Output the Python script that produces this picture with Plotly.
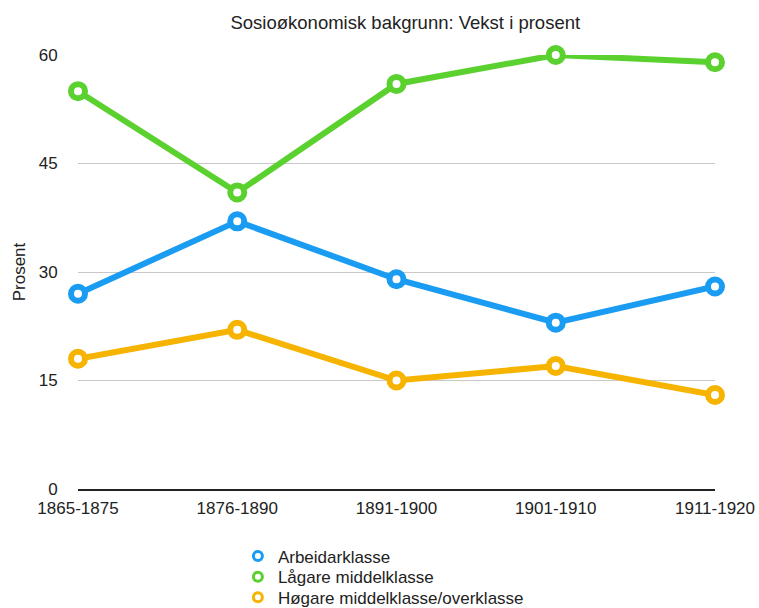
import plotly.graph_objects as go

categories = ["1865-1875", "1876-1890", "1891-1900", "1901-1910", "1911-1920"]
arbeidarklasse = [27, 37, 29, 23, 28]
lagare_middelklasse = [55, 41, 56, 60, 59]
hogare_middelklasse = [18, 22, 15, 17, 13]
series_names = ["Arbeidarklasse", "Lågare middelklasse", "Høgare middelklasse/overklasse"]
colors = ["#1a9cf2", "#5ad12e", "#f6b400"]
y_ticks = [0, 15, 30, 45, 60]

FONT = "Liberation Sans, Arial, Helvetica, sans-serif"
FS = 17

fig = go.Figure()
xs = list(range(len(categories)))
for name, vals, col in zip(series_names, [arbeidarklasse, lagare_middelklasse, hogare_middelklasse], colors):
    fig.add_trace(go.Scatter(
        x=xs, y=vals, mode="lines+markers", name=name, showlegend=False,
        line=dict(color=col, width=6),
        marker=dict(size=14, color="white", line=dict(color=col, width=6)),
        cliponaxis=False,
    ))
legend_ids = ["legend", "legend2", "legend3"]
for name, col, lid in zip(series_names, colors, legend_ids):
    fig.add_trace(go.Scatter(
        x=[None], y=[None], mode="markers", name=name, legend=lid,
        marker=dict(size=9, color="white", line=dict(color=col, width=3)),
    ))

legend_style = dict(x=0.251, xanchor="left", yanchor="top", orientation="v",
                    font=dict(size=FS, color="#222222"), bgcolor="rgba(0,0,0,0)")
fig.update_layout(
    width=759, height=608,
    margin=dict(l=78, r=44, t=55, b=119, autoexpand=False),
    paper_bgcolor="white", plot_bgcolor="white",
    font=dict(family=FONT, size=FS, color="#222222"),
    title=dict(text="Sosioøkonomisk bakgrunn: Vekst i prosent", x=0.534, xanchor="center",
               y=0.963, yanchor="middle", font=dict(size=18.5, color="#222222")),
    showlegend=True,
    legend=dict(y=-0.114, **legend_style),
    legend2=dict(y=-0.1615, **legend_style),
    legend3=dict(y=-0.209, **legend_style),
    xaxis=dict(
        range=[0, 4], tickmode="array", tickvals=xs, ticktext=categories,
        showgrid=False, zeroline=False, showline=True, linecolor="#222222", linewidth=2,
        ticks="outside", ticklen=3, tickcolor="rgba(0,0,0,0)", automargin=False,
        tickfont=dict(size=FS, color="#222222"),
    ),
    yaxis=dict(
        range=[0, 60], tickmode="array", tickvals=y_ticks,
        showgrid=True, gridcolor="#c8c8c8", gridwidth=1, zeroline=False, showline=False,
        ticks="outside", ticklen=16, tickcolor="rgba(0,0,0,0)", automargin=False,
        tickfont=dict(size=FS, color="#222222"),
        title=dict(text="Prosent", font=dict(size=FS, color="#222222"), standoff=8),
    ),
)

fig.write_html("out.html", config={"displayModeBar": False},
               post_script="document.body.style.margin='0';")
